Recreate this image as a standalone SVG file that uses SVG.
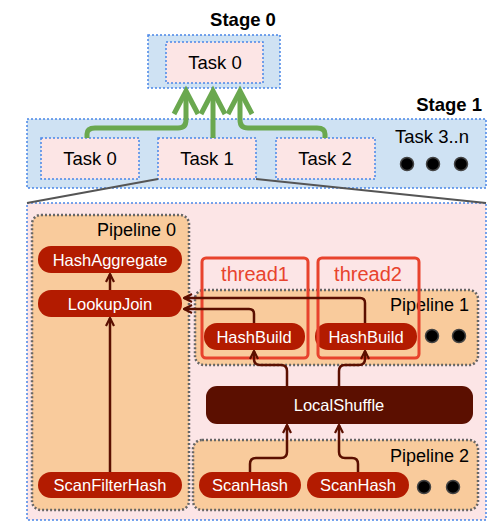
<svg xmlns="http://www.w3.org/2000/svg" width="500" height="526" viewBox="0 0 500 526">
<defs>
<style>
.stage{fill:#cfe2f3;stroke:#4a86e8;stroke-width:1.5;stroke-dasharray:2 2}
.task{fill:#fce5e5;stroke:#4a86e8;stroke-width:1.5;stroke-dasharray:2 2}
.pipe{fill:#f9cb9c;stroke:#666;stroke-width:2.5;stroke-dasharray:2 2}
.op{fill:#b31b00}
.thread{fill:none;stroke:#e8432d;stroke-width:3}
.t{font-family:"Liberation Sans",Arial,sans-serif;fill:#000}
.tw{font-family:"Liberation Sans",Arial,sans-serif;fill:#fff;font-size:16.5px;text-anchor:middle}
.tr{font-family:"Liberation Sans",Arial,sans-serif;fill:#e8432d;font-size:20px;text-anchor:middle}
.green{fill:none;stroke:#6aa84f;stroke-width:5}
.dark{fill:none;stroke:#5b0f00;stroke-width:2.5}
.grey{fill:none;stroke:#555;stroke-width:2}
.dot{fill:#000;stroke:#444;stroke-width:1.5}
</style>
<marker id="da" viewBox="0 0 10 10" refX="9" refY="5" markerWidth="4" markerHeight="4" orient="auto" markerUnits="strokeWidth">
<path d="M1,1 L9,5 L1,9" fill="none" stroke="#5b0f00" stroke-width="2.2"/>
</marker>
</defs>

<g id="stage0">
<rect class="stage" x="148" y="35" width="132" height="53"/>
<text class="t" x="243" y="26" font-size="18.5" font-weight="bold" text-anchor="middle">Stage 0</text>
</g>
<g id="stage0-task0">
<rect class="task" x="166" y="42" width="97" height="41"/>
<text class="t" x="215" y="69" font-size="18.5" text-anchor="middle">Task 0</text>
</g>

<g id="stage1">
<rect class="stage" x="27" y="119" width="459" height="69"/>
<text class="t" x="482" y="111" font-size="18.5" font-weight="bold" text-anchor="end">Stage 1</text>
<text class="t" x="432" y="143" font-size="18.5" text-anchor="middle">Task 3..n</text>
<circle class="dot" cx="407" cy="164" r="6.5"/>
<circle class="dot" cx="433" cy="164" r="6.5"/>
<circle class="dot" cx="461" cy="164" r="6.5"/>
</g>
<g id="stage1-task0">
<rect class="task" x="41" y="138" width="98" height="41"/>
<text class="t" x="90" y="165" font-size="18.5" text-anchor="middle">Task 0</text>
</g>
<g id="stage1-task1">
<rect class="task" x="158" y="138" width="98" height="41"/>
<text class="t" x="207" y="165" font-size="18.5" text-anchor="middle">Task 1</text>
</g>
<g id="stage1-task2">
<rect class="task" x="276" y="138" width="99" height="41"/>
<text class="t" x="325" y="165" font-size="18.5" text-anchor="middle">Task 2</text>
</g>

<g id="task1-detail">
<rect x="27" y="203" width="459" height="317" fill="#fce5e6" stroke="#4a86e8" stroke-width="1.5" stroke-dasharray="2 2"/>
</g>

<g id="pipeline0">
<rect class="pipe" x="32" y="215" width="157" height="295" rx="9"/>
<text class="t" x="176" y="236" font-size="18" text-anchor="end">Pipeline 0</text>
</g>
<g id="pipeline1">
<rect class="pipe" x="195" y="290" width="283" height="75" rx="9"/>
<text class="t" x="469" y="311" font-size="18" text-anchor="end">Pipeline 1</text>
<circle class="dot" cx="432" cy="336" r="6.5"/>
<circle class="dot" cx="459" cy="336" r="6.5"/>
</g>
<g id="pipeline2">
<rect class="pipe" x="193" y="440" width="285" height="70" rx="9"/>
<text class="t" x="469" y="462" font-size="18" text-anchor="end">Pipeline 2</text>
<circle class="dot" cx="424" cy="487" r="6.5"/>
<circle class="dot" cx="453" cy="487" r="6.5"/>
</g>

<g id="hashaggregate">
<rect class="op" x="38" y="246" width="144" height="27" rx="13"/>
<text class="tw" x="110" y="265.5">HashAggregate</text>
</g>
<g id="lookupjoin">
<rect class="op" x="38" y="290" width="144" height="27" rx="13"/>
<text class="tw" x="110" y="309.5">LookupJoin</text>
</g>
<g id="scanfilterhash">
<rect class="op" x="38" y="472" width="144" height="26" rx="13"/>
<text class="tw" x="110" y="491">ScanFilterHash</text>
</g>
<g id="hashbuild1">
<rect class="op" x="204" y="323" width="101" height="27" rx="13"/>
<text class="tw" x="254" y="342.5">HashBuild</text>
</g>
<g id="hashbuild2">
<rect class="op" x="315" y="323" width="102" height="27" rx="13"/>
<text class="tw" x="366" y="342.5">HashBuild</text>
</g>
<g id="localshuffle">
<rect x="206" y="386" width="267" height="38" rx="11" fill="#5b0f00"/>
<text class="tw" x="339" y="411">LocalShuffle</text>
</g>
<g id="scanhash1">
<rect class="op" x="199" y="472" width="102" height="26" rx="13"/>
<text class="tw" x="250" y="491">ScanHash</text>
</g>
<g id="scanhash2">
<rect class="op" x="307" y="472" width="102" height="26" rx="13"/>
<text class="tw" x="358" y="491">ScanHash</text>
</g>

<g id="thread1">
<rect class="thread" x="202" y="258" width="106" height="100" rx="4"/>
<text class="tr" x="255" y="281">thread1</text>
</g>
<g id="thread2">
<rect class="thread" x="318" y="258" width="101" height="100" rx="4"/>
<text class="tr" x="368" y="281">thread2</text>
</g>

<g id="connectors">
<path class="grey" d="M158,179 L27,203"/>
<path class="grey" d="M256,179 L486,203"/>
<path class="green" d="M87,138 V134 Q87,128 95,128 H178 Q186,128 186,120 V92"/>
<path class="green" d="M213,138 V92"/>
<path class="green" d="M325,138 V134 Q325,128 317,128 H248 Q240,128 240,120 V92"/>
<path class="green" d="M174,114 L186,91 L198,114"/>
<path class="green" d="M201,114 L213,91 L225,114"/>
<path class="green" d="M228,114 L240,91 L252,114"/>
<path class="dark" d="M110,472 V318" marker-end="url(#da)"/>
<path class="dark" d="M110,290 V274" marker-end="url(#da)"/>
<path class="dark" d="M254,323 V314 Q254,309 249,309 H184" marker-end="url(#da)"/>
<path class="dark" d="M365,323 V303 Q365,298 360,298 H184" marker-end="url(#da)"/>
<path class="dark" d="M287,386 V371 Q287,365 281,365 H260 Q254,365 254,359 V351" marker-end="url(#da)"/>
<path class="dark" d="M339,386 V371 Q339,365 345,365 H359 Q365,365 365,359 V351" marker-end="url(#da)"/>
<path class="dark" d="M250,472 V464 Q250,458 256,458 H281 Q287,458 287,452 V425" marker-end="url(#da)"/>
<path class="dark" d="M358,472 V464 Q358,458 352,458 H345 Q339,458 339,452 V425" marker-end="url(#da)"/>
</g>
</svg>
